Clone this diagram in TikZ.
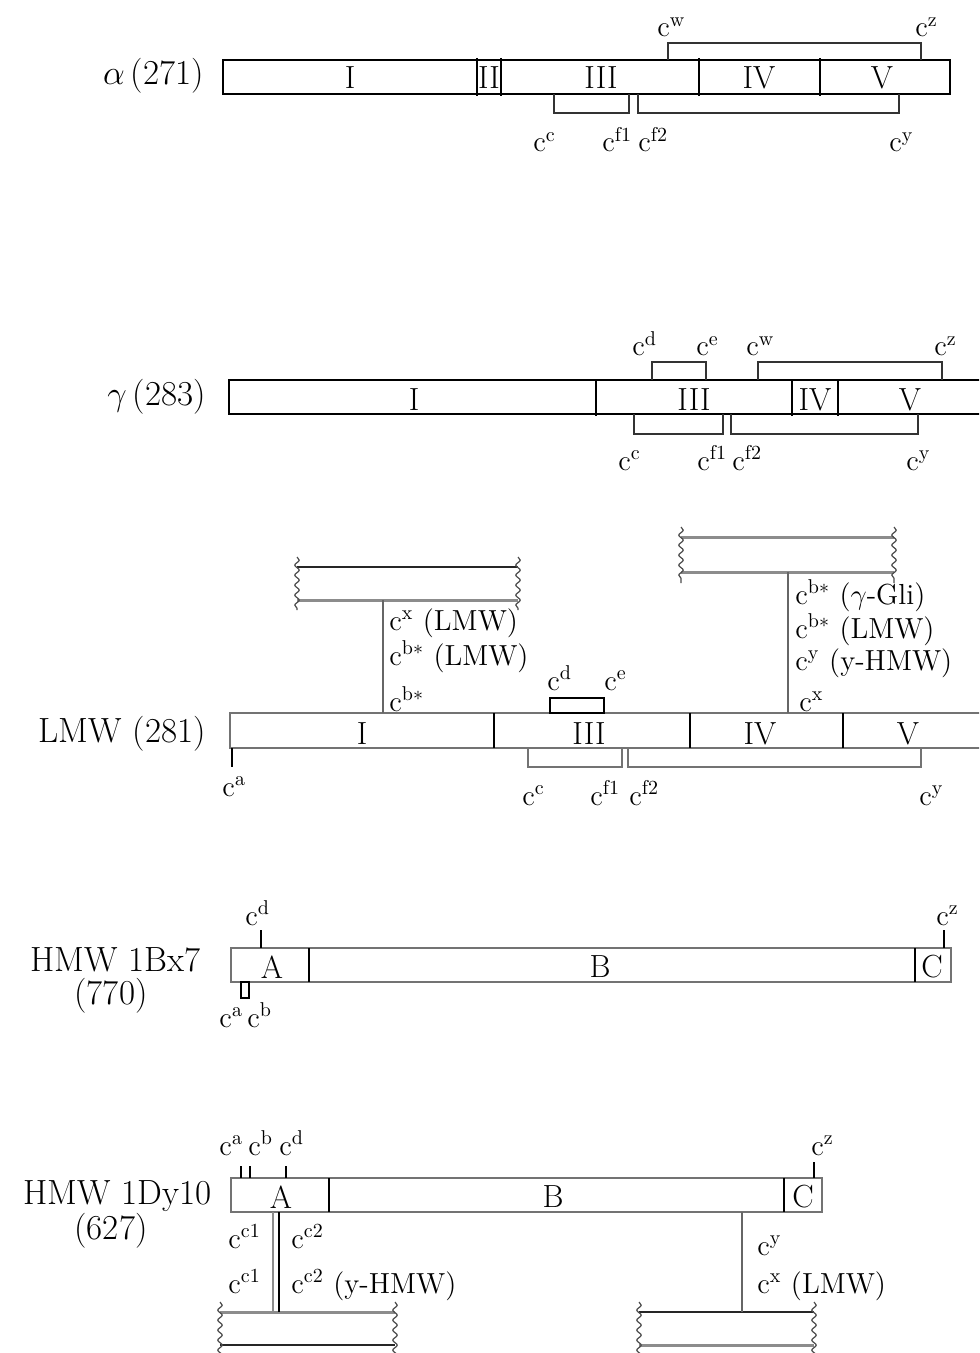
\documentclass[tikz,border=0pt]{standalone}
\usetikzlibrary{decorations.pathmorphing}
\newcommand{\csp}[1]{$\mathrm{c}^{\mathrm{#1}}$}
\begin{document}
\begin{tikzpicture}[x=0.5pt,y=-0.5pt,
  seg/.style={draw=black, line width=0.9pt},
  gbox/.style={draw=black!55, line width=1.3pt},
  brk/.style={draw=black!80, line width=0.8pt},
  gbrk/.style={draw=black!55, line width=0.9pt},
  conn/.style={draw=black!60, line width=0.7pt},
  blin/.style={draw=black!85, line width=0.9pt},
  glin/.style={draw=black!45, line width=1.5pt},
  wavy/.style={draw=black!70, line width=0.6pt, decorate, decoration={snake, segment length=5pt, amplitude=1.1pt}},
  lab/.style={inner sep=0pt, anchor=base west, font=\fontsize{14.5}{17}\selectfont},
  num/.style={inner sep=0pt, font=\fontsize{16}{19}\selectfont},
  rowlab/.style={inner sep=0pt, anchor=east, font=\fontsize{17.5}{20}\selectfont},
  rowsub/.style={inner sep=0pt, font=\fontsize{17.5}{20}\selectfont}
]
\useasboundingbox (0,0) rectangle (979,1353);
\clip (0,0) rectangle (979,1353);

% ---------------- alpha (271)
\node[rowlab] (ra) at (204,76) {$\alpha$\,(271)};
\draw[seg] (223,60) rectangle (950,94);
\foreach \x in {477,501,699,820} \draw[seg] (\x,58) -- (\x,96);
\node[num] (aI) at (350,78) {I};
\node[num] (aII) at (489,78) {II};
\node[num] (aIII) at (601,78) {III};
\node[num] (aIV) at (759,78) {IV};
\node[num] (aV) at (882,78) {V};
\draw[brk] (668,60) -- (668,43) -- (921,43) -- (921,60);
\draw[brk] (554,94) -- (554,113) -- (629,113) -- (629,94);
\draw[brk] (638,94) -- (638,113) -- (899,113) -- (899,94);
\node[lab] (aw) at (657,37) {\csp{w}};
\node[lab] (az) at (915,37) {\csp{z}};
\node[lab] (ac) at (533,152) {\csp{c}};
\node[lab] (af1) at (602,152) {\csp{f1}};
\node[lab] (af2) at (638,152) {\csp{f2}};
\node[lab] (ay) at (889,152) {\csp{y}};

% ---------------- gamma (283)
\node[rowlab] (rg) at (206,397) {$\gamma$\,(283)};
\draw[seg] (990,380) -- (229,380) -- (229,414) -- (990,414);
\foreach \x in {596,792,838} \draw[seg] (\x,380) -- (\x,416);
\node[num] (gI) at (414,400) {I};
\node[num] (gIII) at (694,400) {III};
\node[num] (gIV) at (815,400) {IV};
\node[num] (gV) at (910,400) {V};
\draw[brk] (652,380) -- (652,362) -- (706,362) -- (706,380);
\draw[brk] (758,380) -- (758,362) -- (942,362) -- (942,380);
\draw[brk] (634,414) -- (634,434) -- (723,434) -- (723,414);
\draw[brk] (731,414) -- (731,434) -- (918,434) -- (918,414);
\node[lab] (gd) at (632,356) {\csp{d}};
\node[lab] (ge) at (696,356) {\csp{e}};
\node[lab] (gw) at (746,356) {\csp{w}};
\node[lab] (gz) at (934,356) {\csp{z}};
\node[lab] (gc) at (618,470) {\csp{c}};
\node[lab] (gf1) at (697,470) {\csp{f1}};
\node[lab] (gf2) at (732,470) {\csp{f2}};
\node[lab] (gy) at (906,470) {\csp{y}};

% ---------------- LMW (281)
\node[rowlab] (rl) at (206,734) {LMW (281)};
\draw[gbox] (990,713) -- (230,713) -- (230,748) -- (990,748);
\foreach \x in {494,690,843} \draw[seg] (\x,713) -- (\x,748);
\node[num] (lI) at (362,734) {I};
\node[num] (lIII) at (589,734) {III};
\node[num] (lIV) at (760,734) {IV};
\node[num] (lV) at (908,734) {V};
\draw[seg] (550,698) rectangle (604,713);
\node[lab] (ld) at (547,690) {\csp{d}};
\node[lab] (le) at (604,690) {\csp{e}};
\draw[seg] (232,748) -- (232,767);
\node[lab] (la) at (222,796) {\csp{a}};
\draw[gbrk] (528,748) -- (528,767) -- (622,767) -- (622,748);
\draw[gbrk] (628,748) -- (628,767) -- (921,767) -- (921,748);
\node[lab] (lc) at (522,805) {\csp{c}};
\node[lab] (lf1) at (590,805) {\csp{f1}};
\node[lab] (lf2) at (629,805) {\csp{f2}};
\node[lab] (ly) at (919,805) {\csp{y}};
% left partner
\draw[blin] (297,567) -- (518,567);
\draw[glin] (297,600) -- (518,600);
\draw[wavy] (297,557) -- (297,610);
\draw[wavy] (518,557) -- (518,610);
\coordinate (lp1) at (383,600);
\coordinate (lq1) at (383,713);
\draw[conn] (lp1) -- (lq1);
\node[lab] (lx1) at (389,630) {\csp{x} (LMW)};
\node[lab] (lb1) at (389,665) {$\mathrm{c}^{\mathrm{b}*}$ (LMW)};
\node[lab] (lb2) at (389,711) {$\mathrm{c}^{\mathrm{b}*}$};
% right partner
\draw[glin] (681,537) -- (894,537);
\draw[glin] (681,572) -- (894,572);
\draw[wavy] (681,527) -- (681,583);
\draw[wavy] (894,527) -- (894,583);
\coordinate (lp2) at (788,572);
\coordinate (lq2) at (788,713);
\draw[conn] (lp2) -- (lq2);
\node[lab] (lb3) at (795,604) {$\mathrm{c}^{\mathrm{b}*}$ ($\gamma$-Gli)};
\node[lab] (lb4) at (795,638) {$\mathrm{c}^{\mathrm{b}*}$ (LMW)};
\node[lab] (ly2) at (795,670) {\csp{y} (y-HMW)};
\node[lab] (lx2) at (799,711) {\csp{x}};

% ---------------- HMW 1Bx7 (770)
\node[rowlab] (rb1) at (201,960) {HMW 1Bx7};
\node[rowsub] (rb2) at (111,996) {(770)};
\draw[gbox] (231,948) rectangle (951,982);
\foreach \x in {309,915} \draw[seg] (\x,948) -- (\x,982);
\node[num] (bA) at (272,967) {A};
\node[num] (bB) at (600,967) {B};
\node[num] (bC) at (932,967) {C};
\draw[seg] (261,930) -- (261,948);
\draw[seg] (944,930) -- (944,948);
\node[lab] (bd) at (245,925) {\csp{d}};
\node[lab] (bz) at (936,925) {\csp{z}};
\draw[seg] (241,982) rectangle (249,998);
\node[lab] (ba) at (219,1027) {\csp{a}};
\node[lab] (bb) at (247,1027) {\csp{b}};

% ---------------- HMW 1Dy10 (627)
\node[rowlab] (rd1) at (212,1196) {HMW 1Dy10};
\node[rowsub] (rd2) at (111,1231) {(627)};
\draw[gbox] (231,1178) rectangle (822,1212);
\foreach \x in {329,784} \draw[seg] (\x,1178) -- (\x,1212);
\node[num] (dA) at (281,1197) {A};
\node[num] (dB) at (553,1197) {B};
\node[num] (dC) at (803,1197) {C};
\foreach \x in {241,250,286} \draw[seg] (\x,1166) -- (\x,1178);
\draw[seg] (814,1162) -- (814,1178);
\node[lab] (da) at (219,1155) {\csp{a}};
\node[lab] (db) at (248,1155) {\csp{b}};
\node[lab] (dd) at (279,1155) {\csp{d}};
\node[lab] (dz) at (811,1155) {\csp{z}};
% left partner
\draw[glin] (220,1312) -- (395,1312);
\draw[blin] (220,1345) -- (395,1345);
\draw[wavy] (220,1302) -- (220,1360);
\draw[wavy] (395,1302) -- (395,1360);
\coordinate (dp1) at (273,1212);
\coordinate (dq1) at (273,1312);
\coordinate (dp2) at (279,1212);
\coordinate (dq2) at (279,1312);
\draw[draw=black!45, line width=1.2pt] (dp1) -- (dq1);
\draw[seg] (dp2) -- (dq2);
\node[lab] (dc1) at (228,1248) {\csp{c1}};
\node[lab] (dc2) at (291,1248) {\csp{c2}};
\node[lab] (dc3) at (228,1293) {\csp{c1}};
\node[lab] (dc4) at (291,1293) {\csp{c2} (y-HMW)};
% right partner
\draw[blin] (639,1312) -- (814,1312);
\draw[glin] (639,1345) -- (814,1345);
\draw[wavy] (639,1302) -- (639,1360);
\draw[wavy] (814,1302) -- (814,1360);
\coordinate (dp3) at (742,1212);
\coordinate (dq3) at (742,1312);
\draw[conn] (dp3) -- (dq3);
\node[lab] (dy) at (757,1255) {\csp{y}};
\node[lab] (dx) at (757,1293) {\csp{x} (LMW)};
\end{tikzpicture}
\end{document}
